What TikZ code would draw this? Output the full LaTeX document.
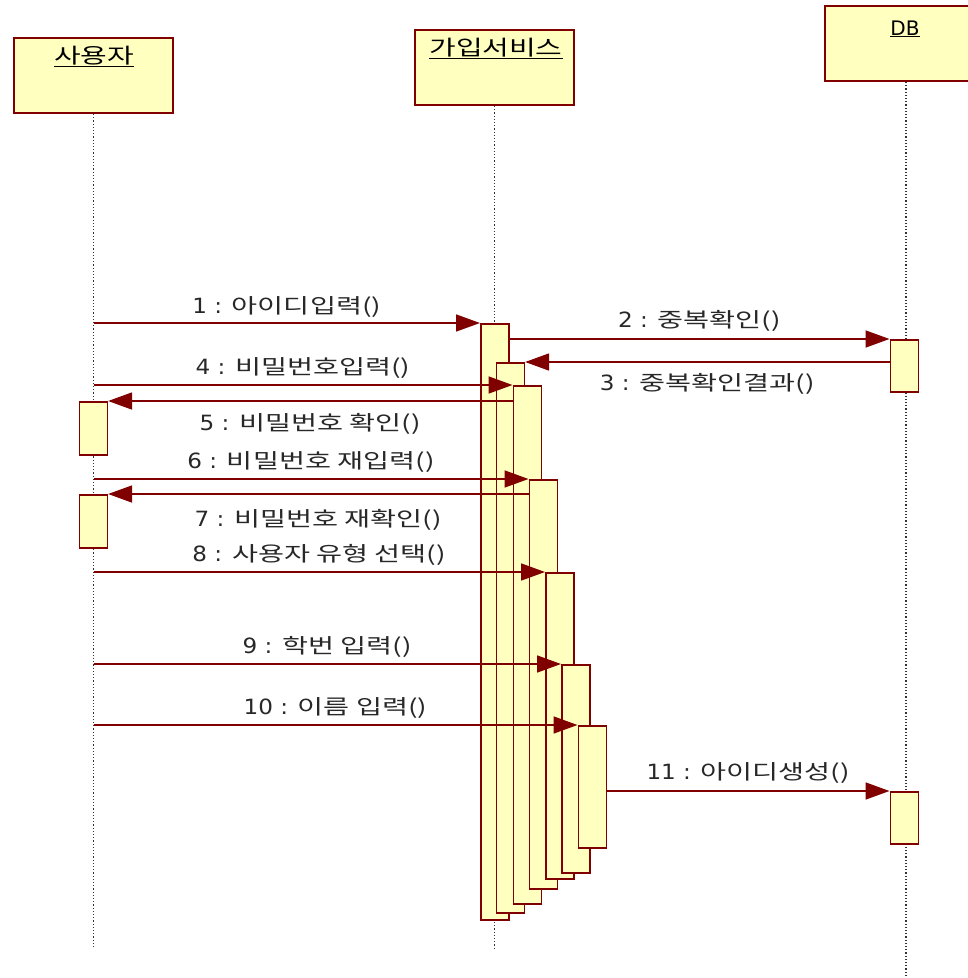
\documentclass[tikz,border=0pt]{standalone}
\usepackage{fontspec}
\newfontfamily\krfont[FakeStretch=1.38]{Noto Sans CJK KR}
\newfontfamily\numfont[FakeStretch=1.1]{DejaVu Sans}
\newfontfamily\dbfont{DejaVu Sans}
\usetikzlibrary{arrows.meta}
\definecolor{boxfill}{RGB}{255,255,192}
\definecolor{boxline}{RGB}{128,0,0}
\definecolor{msgline}{RGB}{128,0,0}
\definecolor{txt}{RGB}{40,40,40}
\newcommand\msgtext[2]{{\numfont\fontsize{21}{24}\selectfont #1 : }{\krfont\fontsize{20.5}{24}\selectfont #2()}}
\newcommand\headtext[1]{{\krfont\fontsize{21}{24}\selectfont\underline{#1}}}
\tikzset{
  headbox/.style={draw=boxline, fill=boxfill, line width=2pt, minimum width=159pt, minimum height=75pt, inner sep=0pt, anchor=north west},
  htext/.style={text=black, inner sep=0pt, anchor=base},
  actbar/.style={draw=boxline, fill=boxfill, line width=1.6pt, minimum width=28pt, inner sep=0pt, anchor=north west},
  life/.style={draw=black!80, line width=1.2pt, dash pattern=on 1.2pt off 2pt},
  msg/.style={draw=msgline, line width=1.6pt, -{Triangle[length=24pt,width=17pt]}},
  lbl/.style={text=txt, inner sep=0pt, anchor=base}
}
\begin{document}
\begin{tikzpicture}[x=1pt,y=-1pt]
\useasboundingbox (0,0) rectangle (968,978);
% header boxes
\node[headbox] (u) at (13,37) {};
\node[headbox] (s) at (414,29) {};
\node[headbox, minimum width=162pt] (d) at (824,5) {};
\node[htext] (ut) at (94,63) {\headtext{사용자}};
\node[htext] (st) at (496,55) {\headtext{가입서비스}};
\node[htext] (dt) at (905,35) {\dbfont\fontsize{20}{22}\selectfont\underline{DB}};
% lifelines
\coordinate (uend) at (0,948);
\coordinate (send) at (0,948);
\coordinate (dend) at (0,978);
\draw[life] (u.south) -- (u.south |- uend);
\draw[life] (s.south) -- (s.south |- send);
\draw[life] (d.south) -- (d.south |- dend);
% activation bars
\node[actbar, minimum height=596pt] (b1) at (480,323) {};
\node[actbar, minimum height=550pt] (b2) at (495.5,362) {};
\node[actbar, minimum height=518pt] (b3) at (512.5,385) {};
\node[actbar, minimum height=409pt] (b4) at (528.5,479) {};
\node[actbar, minimum height=306pt] (b5) at (545,572) {};
\node[actbar, minimum height=208pt] (b6) at (561,664) {};
\node[actbar, minimum height=122pt] (b7) at (577.5,725) {};
\node[actbar, minimum height=53pt] (ua1) at (78.5,401) {};
\node[actbar, minimum height=53pt] (ua2) at (78.5,494) {};
\node[actbar, minimum height=52pt] (da1) at (889.5,339) {};
\node[actbar, minimum height=52pt] (da2) at (889.5,791) {};
% messages
\draw[msg] (u.south |- b1.north west) -- node[lbl, yshift=10pt] (l1) {\msgtext{1}{아이디입력}} (b1.north west);
\draw[msg] (b1.east |- da1.north west) -- node[lbl, yshift=12pt] (l2) {\msgtext{2}{중복확인}} (da1.north west);
\draw[msg] (da1.west |- b2.north east) -- node[lbl, yshift=-28pt] (l3) {\msgtext{3}{중복확인결과}} (b2.north east);
\draw[msg] (u.south |- b3.north west) -- node[lbl, yshift=11pt] (l4) {\msgtext{4}{비밀번호입력}} (b3.north west);
\draw[msg] (b3.west |- ua1.north east) -- node[lbl, yshift=-29pt] (l5) {\msgtext{5}{비밀번호 확인}} (ua1.north east);
\draw[msg] (u.south |- b4.north west) -- node[lbl, yshift=11pt] (l6) {\msgtext{6}{비밀번호 재입력}} (b4.north west);
\draw[msg] (b4.west |- ua2.north east) -- node[lbl, yshift=-32pt] (l7) {\msgtext{7}{비밀번호 재확인}} (ua2.north east);
\draw[msg] (u.south |- b5.north west) -- node[lbl, yshift=11pt] (l8) {\msgtext{8}{사용자 유형 선택}} (b5.north west);
\draw[msg] (u.south |- b6.north west) -- node[lbl, yshift=11pt] (l9) {\msgtext{9}{학번 입력}} (b6.north west);
\draw[msg] (u.south |- b7.north west) -- node[lbl, yshift=11pt] (l10) {\msgtext{10}{이름 입력}} (b7.north west);
\draw[msg] (b7.east |- da2.north west) -- node[lbl, yshift=12pt] (l11) {\msgtext{11}{아이디생성}} (da2.north west);
\end{tikzpicture}
\end{document}
